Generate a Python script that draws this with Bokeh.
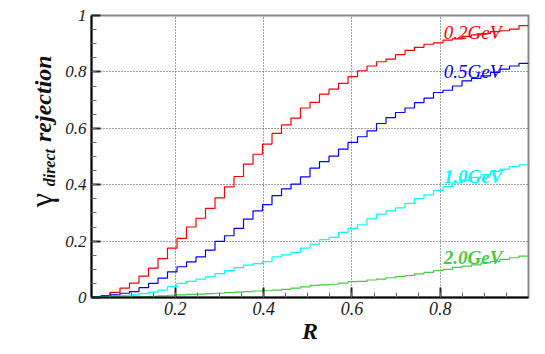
import numpy as np
from bokeh.plotting import figure
from bokeh.layouts import row
from bokeh.models import FixedTicker, Range1d
from bokeh.core.properties import value
from bokeh.embed import file_html
from bokeh.resources import INLINE

# ---- data -------------------------------------------------------------
r_lo, r_hi, n_bins = 0.01, 1.0, 46

rej_02 = [0.002, 0.007, 0.018, 0.033, 0.051, 0.076, 0.104, 0.138, 0.175, 0.210,
          0.250, 0.281, 0.316, 0.353, 0.392, 0.429, 0.473, 0.508, 0.544, 0.582,
          0.612, 0.636, 0.672, 0.692, 0.721, 0.739, 0.759, 0.783, 0.804, 0.821,
          0.836, 0.845, 0.861, 0.876, 0.887, 0.898, 0.903, 0.913, 0.917, 0.926,
          0.931, 0.936, 0.943, 0.946, 0.952, 0.964]
rej_05 = [0.003, 0.005, 0.009, 0.015, 0.021, 0.035, 0.050, 0.069, 0.091, 0.109,
          0.126, 0.144, 0.168, 0.199, 0.219, 0.245, 0.278, 0.307, 0.329, 0.361,
          0.385, 0.402, 0.428, 0.459, 0.482, 0.501, 0.526, 0.550, 0.570, 0.591,
          0.617, 0.638, 0.656, 0.672, 0.691, 0.707, 0.727, 0.735, 0.750, 0.768,
          0.777, 0.786, 0.798, 0.810, 0.821, 0.830]
rej_10 = [0.001, 0.002, 0.004, 0.007, 0.009, 0.014, 0.019, 0.026, 0.039, 0.050,
          0.057, 0.065, 0.073, 0.085, 0.095, 0.106, 0.115, 0.120, 0.127, 0.144,
          0.151, 0.160, 0.175, 0.189, 0.205, 0.213, 0.231, 0.245, 0.258, 0.279,
          0.296, 0.307, 0.318, 0.334, 0.351, 0.364, 0.380, 0.393, 0.406, 0.416,
          0.426, 0.435, 0.447, 0.455, 0.464, 0.470]
rej_20 = [0.000, 0.000, 0.001, 0.001, 0.002, 0.003, 0.004, 0.006, 0.008, 0.009,
          0.011, 0.012, 0.014, 0.015, 0.017, 0.019, 0.021, 0.023, 0.024, 0.026,
          0.029, 0.033, 0.038, 0.043, 0.045, 0.047, 0.051, 0.056, 0.057, 0.062,
          0.065, 0.070, 0.074, 0.078, 0.084, 0.089, 0.095, 0.100, 0.107, 0.111,
          0.116, 0.123, 0.128, 0.135, 0.141, 0.147]

series_labels = ["0.2GeV", "0.5GeV", "1.0GeV", "2.0GeV"]
series_colors = ["#ff0000", "#0000ff", "#00ffff", "#44cc44"]
label_x = [0.808, 0.808, 0.808, 0.808]
label_y = [0.939, 0.800, 0.428, 0.141]
label_bold = [False, False, True, True]

x_ticks = [0.2, 0.4, 0.6, 0.8]
y_ticks = [0.0, 0.2, 0.4, 0.6, 0.8, 1.0]
minor_step = 0.05

x_title = "R"
y_title_parts = ["γ", "direct", "rejection"]

SERIF = "Liberation Serif"
TOTAL_H = 350
STRIP_W = 60

# ---- y-title strip (separate narrow figure, pixel coordinates) ---------
tf = figure(width=STRIP_W, height=TOTAL_H, output_backend="svg", toolbar_location=None,
            x_range=Range1d(0, STRIP_W), y_range=Range1d(0, TOTAL_H),
            x_axis_location=None, y_axis_location=None, min_border=0)
tf.outline_line_color = None
tf.grid.visible = False
tf.background_fill_color = "white"
tf.border_fill_color = "white"
tf.text(x=[40], y=[112], text=[y_title_parts[0]], angle=np.pi / 2,
        text_font=value(SERIF), text_font_size="32px", text_font_style="normal",
        text_color="#111111", text_align="left", text_baseline="alphabetic")
tf.text(x=[49], y=[138], text=[y_title_parts[1]], angle=np.pi / 2,
        text_font=value(SERIF), text_font_size="16px", text_font_style="bold italic",
        text_color="#111111", text_align="left", text_baseline="alphabetic")
tf.text(x=[42], y=[193], text=[y_title_parts[2]], angle=np.pi / 2,
        text_font=value(SERIF), text_font_size="24px", text_font_style="bold italic",
        text_color="#111111", text_align="left", text_baseline="alphabetic")

# ---- main figure --------------------------------------------------------
p = figure(width=545 - STRIP_W, height=TOTAL_H, output_backend="svg", toolbar_location=None,
           x_range=Range1d(r_lo, r_hi), y_range=Range1d(0, 1),
           min_border_left=91 - STRIP_W, min_border_right=17, min_border_top=15,
           min_border_bottom=53)
p.background_fill_color = "white"
p.border_fill_color = "white"
p.outline_line_color = "#8a8a8a"
p.outline_line_width = 2

minors = [round(minor_step * i, 2) for i in range(1, 20)]
p.xaxis.ticker = FixedTicker(ticks=x_ticks, minor_ticks=minors)
p.yaxis.ticker = FixedTicker(ticks=y_ticks, minor_ticks=minors)
p.yaxis.major_label_overrides = {0: "0", 1: "1"}

for ax in (p.xaxis[0], p.yaxis[0]):
    ax.axis_line_color = "black"
    ax.axis_line_width = 2
    ax.major_tick_out = 0
    ax.minor_tick_out = 0
    ax.major_tick_line_color = "#222222"
    ax.major_tick_line_width = 2
    ax.minor_tick_line_color = "#666666"
    ax.minor_tick_line_width = 1
    ax.major_label_text_font = SERIF
    ax.major_label_text_font_style = "italic"
    ax.major_label_text_color = "#1a1a1a"

p.xaxis.major_tick_in = 10
p.xaxis.minor_tick_in = 5
p.yaxis.major_tick_in = 9
p.yaxis.minor_tick_in = 5
p.xaxis.major_label_text_font_size = "18px"
p.yaxis.major_label_text_font_size = "17px"
p.xaxis.major_label_standoff = 4
p.yaxis.major_label_standoff = 5

p.xaxis.axis_label = x_title
p.xaxis.axis_label_text_font = SERIF
p.xaxis.axis_label_text_font_size = "24px"
p.xaxis.axis_label_text_font_style = "bold italic"
p.xaxis.axis_label_text_color = "#111111"
p.xaxis.axis_label_standoff = 0

for g in (p.xgrid[0], p.ygrid[0]):
    g.grid_line_color = "#444444"
    g.grid_line_dash = "1 2"
    g.grid_line_width = 1
p.xgrid.ticker = FixedTicker(ticks=x_ticks)
p.ygrid.ticker = FixedTicker(ticks=y_ticks)

# ---- histograms ---------------------------------------------------------
edges = np.linspace(r_lo, r_hi, n_bins + 1)
for vals, col in zip([rej_02, rej_05, rej_10, rej_20], series_colors):
    ys = list(vals) + [vals[-1]]
    p.step(x=edges, y=ys, mode="after", line_color=col, line_width=1.2)

for lab, col, lx, ly, bold in zip(series_labels, series_colors, label_x, label_y, label_bold):
    p.text(x=[lx], y=[ly], text=[lab], text_color=col,
           text_font=value(SERIF), text_font_size="19px",
           text_font_style="bold italic" if bold else "italic",
           text_baseline="alphabetic", text_align="left")

layout = row(tf, p, spacing=0)
open("out.html", "w").write(file_html(layout, INLINE))
